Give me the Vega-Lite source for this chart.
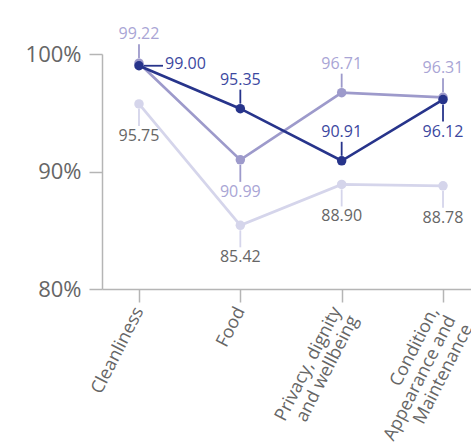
{
  "$schema": "https://vega.github.io/schema/vega-lite/v6.json",
  "width": 378,
  "height": 235,
  "autosize": {"type": "none"},
  "padding": {"left": 102, "top": 54, "right": 0, "bottom": 154},
  "config": {"view": {"stroke": null}, "font": "Open Sans"},
  "data": {
    "values": [
      {"series": "C", "area": "Cleanliness", "score": 95.75},
      {"series": "C", "area": "Food", "score": 85.42},
      {"series": "C", "area": "Privacy, dignity and wellbeing", "score": 88.90},
      {"series": "C", "area": "Condition, Appearance and Maintenance", "score": 88.78},
      {"series": "B", "area": "Cleanliness", "score": 99.22},
      {"series": "B", "area": "Food", "score": 90.99},
      {"series": "B", "area": "Privacy, dignity and wellbeing", "score": 96.71},
      {"series": "B", "area": "Condition, Appearance and Maintenance", "score": 96.31},
      {"series": "A", "area": "Cleanliness", "score": 99.00},
      {"series": "A", "area": "Food", "score": 95.35},
      {"series": "A", "area": "Privacy, dignity and wellbeing", "score": 90.91},
      {"series": "A", "area": "Condition, Appearance and Maintenance", "score": 96.12}
    ]
  },
  "encoding": {
    "x": {
      "field": "area",
      "type": "nominal",
      "sort": ["Cleanliness", "Food", "Privacy, dignity and wellbeing", "Condition, Appearance and Maintenance"],
      "scale": {"type": "point", "padding": 0.365},
      "axis": {
        "title": null,
        "labelAngle": -63,
        "labelAlign": "right",
        "labelBaseline": "middle",
        "labelFontSize": 18,
        "labelLineHeight": 19,
        "labelColor": "#666666",
        "labelPadding": 6,
        "labelOffset": {"condition": [{"test": "datum.value == 'Condition, Appearance and Maintenance'", "value": -9}, {"test": "datum.value == 'Privacy, dignity and wellbeing'", "value": -5}], "value": 0},
        "tickSize": 13,
        "tickColor": "#b5b5b5",
        "domainColor": "#b5b5b5",
        "domainWidth": 1.5,
        "tickWidth": 1.5,
        "labelLimit": 0,
        "labelExpr": "datum.label == 'Privacy, dignity and wellbeing' ? ['Privacy, dignity', 'and wellbeing'] : datum.label == 'Condition, Appearance and Maintenance' ? ['Condition,', 'Appearance and', 'Maintenance'] : datum.label"
      }
    },
    "y": {
      "field": "score",
      "type": "quantitative",
      "scale": {"domain": [80, 100], "nice": false, "zero": false},
      "axis": {
        "title": null,
        "values": [80, 90, 100],
        "labelExpr": "datum.value + '%'",
        "grid": false,
        "labelFontSize": 22,
        "labelColor": "#666666",
        "labelPadding": 8,
        "tickSize": 13,
        "tickColor": "#b5b5b5",
        "domainColor": "#b5b5b5",
        "domainWidth": 1.5,
        "tickWidth": 1.5
      }
    }
  },
  "layer": [
    {
      "mark": {"type": "line", "strokeWidth": 2.7},
      "encoding": {
        "color": {"field": "series", "type": "nominal", "scale": {"domain": ["A", "B", "C"], "range": ["#27348b", "#9d9acb", "#d5d5eb"]}, "legend": null}
      }
    },
    {
      "transform": [{"filter": "(datum.series=='A' && (datum.area=='Food' || datum.area=='Privacy, dignity and wellbeing')) || (datum.series=='B' && datum.area!='Food')"}],
      "mark": {"type": "rule", "strokeWidth": 1.8, "yOffset": -5, "y2Offset": -19},
      "encoding": {
        "y2": {"field": "score"},
        "color": {"field": "series", "type": "nominal", "legend": null}
      }
    },
    {
      "transform": [{"filter": "(datum.series=='A' && datum.area=='Condition, Appearance and Maintenance') || (datum.series=='B' && datum.area=='Food') || datum.series=='C'"}],
      "mark": {"type": "rule", "strokeWidth": 1.8, "yOffset": 5, "y2Offset": 22},
      "encoding": {
        "y2": {"field": "score"},
        "color": {"field": "series", "type": "nominal", "legend": null}
      }
    },
    {
      "transform": [{"filter": "datum.series=='A' && datum.area=='Cleanliness'"}],
      "mark": {"type": "rule", "strokeWidth": 1.8, "xOffset": 5, "x2Offset": 24},
      "encoding": {
        "x2": {"field": "area"},
        "color": {"field": "series", "type": "nominal", "legend": null}
      }
    },
    {
      "mark": {"type": "point", "filled": true, "opacity": 1, "size": 90},
      "encoding": {
        "color": {"field": "series", "type": "nominal", "legend": null}
      }
    },
    {
      "transform": [{"filter": "(datum.series=='A' && (datum.area=='Food' || datum.area=='Privacy, dignity and wellbeing')) || (datum.series=='B' && datum.area!='Food')"}],
      "mark": {"type": "text", "fontSize": 16, "align": "center", "baseline": "alphabetic", "dy": -24},
      "encoding": {
        "text": {"field": "score", "type": "quantitative", "format": ".2f"},
        "fill": {"field": "series", "type": "nominal", "scale": {"domain": ["A", "B", "C"], "range": ["#3b47a0", "#a9a5d5", "#666666"]}, "legend": null}
      }
    },
    {
      "transform": [{"filter": "(datum.series=='A' && datum.area=='Condition, Appearance and Maintenance') || (datum.series=='B' && datum.area=='Food') || datum.series=='C'"}],
      "mark": {"type": "text", "fontSize": 16, "align": "center", "baseline": "alphabetic", "dy": 37},
      "encoding": {
        "text": {"field": "score", "type": "quantitative", "format": ".2f"},
        "fill": {"field": "series", "type": "nominal", "legend": null}
      }
    },
    {
      "transform": [{"filter": "datum.series=='A' && datum.area=='Cleanliness'"}],
      "mark": {"type": "text", "fontSize": 16, "align": "left", "baseline": "middle", "dx": 26, "dy": -2},
      "encoding": {
        "text": {"field": "score", "type": "quantitative", "format": ".2f"},
        "fill": {"field": "series", "type": "nominal", "legend": null}
      }
    }
  ]
}
